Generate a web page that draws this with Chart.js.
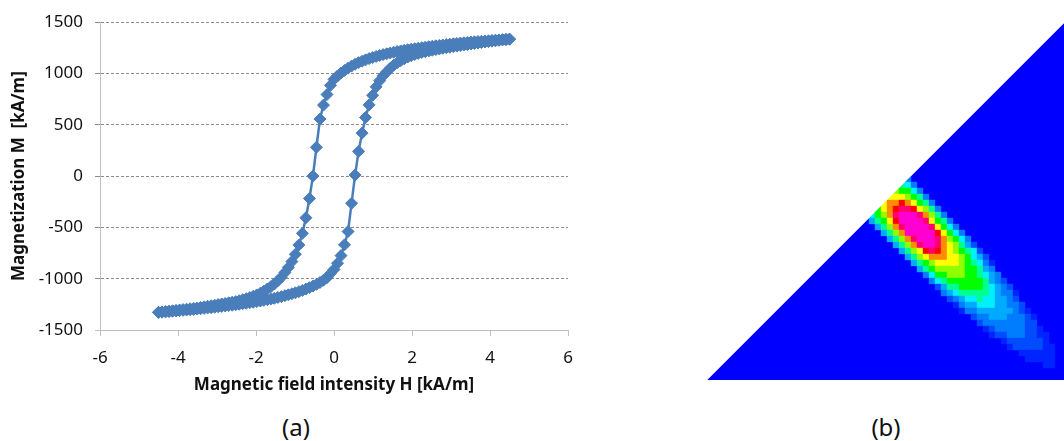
<!DOCTYPE html>
<html>
<head>
<meta charset="utf-8">
<script src="https://cdn.jsdelivr.net/npm/chart.js@4.4.1/dist/chart.umd.min.js"></script>
<style>
  html, body { margin: 0; padding: 0; background: #fff; overflow: hidden; }
  body { width: 1064px; height: 441px; position: relative; font-family: "Noto Sans", sans-serif; }
  #loopChart { position: absolute; left: 0; top: 0; }
  #mapChart { position: absolute; left: 707px; top: 20px; }
  .caption { position: absolute; top: 412px; font-size: 24px; line-height: 30px; color: #111; transform: translateX(-50%); }
</style>
</head>
<body>
<canvas id="loopChart" width="600" height="400"></canvas>
<canvas id="mapChart" width="360" height="360"></canvas>
<div class="caption" style="left:296px">(a)</div>
<div class="caption" style="left:886px">(b)</div>
<script>
// (a) hysteresis loop, H in kA/m, both branches sampled on the same H values
const fieldH = [4.50, 4.41, 4.32, 4.23, 4.14, 4.05, 3.96, 3.87, 3.78, 3.69,
    3.60, 3.51, 3.42, 3.33, 3.24, 3.15, 3.06, 2.97, 2.88, 2.79,
    2.70, 2.61, 2.52, 2.43, 2.34, 2.25, 2.16, 2.07, 1.98, 1.89,
    1.80, 1.71, 1.62, 1.53, 1.44, 1.35, 1.26, 1.17, 1.08, 0.99,
    0.90, 0.81, 0.72, 0.63, 0.54, 0.45, 0.36, 0.27, 0.18, 0.09,
    0.00,
    -0.09, -0.18, -0.27, -0.36, -0.45, -0.54, -0.63, -0.72, -0.81, -0.90,
    -0.99, -1.08, -1.17, -1.26, -1.35, -1.44, -1.53, -1.62, -1.71, -1.80,
    -1.89, -1.98, -2.07, -2.16, -2.25, -2.34, -2.43, -2.52, -2.61, -2.70,
    -2.79, -2.88, -2.97, -3.06, -3.15, -3.24, -3.33, -3.42, -3.51, -3.60,
    -3.69, -3.78, -3.87, -3.96, -4.05, -4.14, -4.23, -4.32, -4.41, -4.50];

const upperM = [1335, 1332, 1330, 1327, 1325, 1322, 1319, 1317, 1314, 1311,
    1309, 1306, 1303, 1300, 1297, 1293, 1290, 1286, 1282, 1278,
    1274, 1270, 1266, 1261, 1257, 1252, 1247, 1242, 1237, 1232,
    1226, 1220, 1214, 1207, 1200, 1192, 1184, 1175, 1166, 1156,
    1145, 1133, 1120, 1106, 1090, 1072, 1052, 1030, 1005, 976,
    943,
    885, 795, 692, 556, 281, 0, -218, -406, -558, -671,
    -762, -833, -890, -940, -985, -1020, -1052, -1078, -1100, -1122,
    -1142, -1158, -1172, -1184, -1195, -1205, -1214, -1223, -1229, -1235,
    -1241, -1246, -1252, -1258, -1263, -1269, -1274, -1280, -1285, -1289,
    -1293, -1297, -1301, -1305, -1309, -1313, -1317, -1321, -1325, -1328];

const lowerM = [1335, 1331, 1327, 1323, 1319, 1315, 1311, 1307, 1302, 1297,
    1292, 1287, 1282, 1277, 1272, 1267, 1262, 1256, 1251, 1245,
    1239, 1233, 1227, 1220, 1213, 1205, 1196, 1186, 1174, 1160,
    1143, 1125, 1105, 1080, 1050, 1015, 978, 930, 870, 787,
    694, 571, 419, 241, 10, -265, -540, -670, -775, -850,
    -910,
    -950, -990, -1015, -1037, -1055, -1072, -1087, -1101, -1114, -1126,
    -1137, -1147, -1157, -1166, -1175, -1183, -1191, -1198, -1205, -1211,
    -1217, -1223, -1229, -1234, -1239, -1244, -1249, -1254, -1258, -1262,
    -1266, -1270, -1274, -1278, -1282, -1285, -1289, -1292, -1296, -1299,
    -1302, -1305, -1308, -1311, -1314, -1317, -1320, -1323, -1326, -1328];

const xTickValues = [-6, -4, -2, 0, 2, 4, 6];
const yTickValues = [-1500, -1000, -500, 0, 500, 1000, 1500];

// (b) distribution map: one string per grid row (top row first), one level code per cell
const mapTopRow = 33;
const mapRowStart = [33, 32, 31, 30, 29, 28, 27, 27, 28, 29, 30, 31, 32, 33, 34, 35,
    36, 37, 38, 39, 40, 41, 42, 44, 45, 46, 47, 49, 50, 52, 53, 56];
const mapRows = [
    "3",
    "653",
    "87753",
    "9998763",
    "9AABA9763",
    "79ABCCB9863",
    "578ACDDDCA863",
    "4679BDDDDC9763",
    "468ACDDDDC9753",
    "468ADDDDDB9753",
    "468ACDDDCA8753",
    "468ACDDCA98642",
    "4689BCBA987652",
    "4689AAA9987542",
    "46789999876531",
    "4678888877643",
    "3577888776543",
    "3567777776432",
    "2466777765432",
    "3456666654331",
    "234556554432",
    "134455544332",
    "133444444321",
    "23344433321",
    "2333333322",
    "1233333221",
    "1223332211",
    "12222221",
    "12222211",
    "111111",
    "11111",
    "11"
];
const mapLevelColors = {
    "1": "#0024ff", "2": "#004cff", "3": "#007cff", "4": "#00aaff",
    "5": "#00f0ff", "6": "#00ff90", "7": "#00ff00", "8": "#90ff00",
    "9": "#ffff00", "A": "#ff8c00", "B": "#ff0000", "C": "#ff0070", "D": "#ff00d0"
};
const domainEdgeX = [0, 60];
const domainEdgeY = [0, 60];

const tickFont = { family: "Noto Sans", size: 17 };
const titleFont = { family: "Noto Sans", size: 17, weight: "bold" };
const textColor = "#111";
const loopColor = "#4a7ebb";

function loopDataset(values) {
    return {
        data: fieldH.map((h, i) => ({ x: h, y: values[i] })),
        showLine: true,
        borderColor: loopColor,
        borderWidth: 2.5,
        pointStyle: "rectRot",
        pointRadius: 6,
        pointBorderWidth: 1,
        pointBackgroundColor: loopColor,
        pointBorderColor: loopColor
    };
}

new Chart(document.getElementById("loopChart"), {
    type: "scatter",
    data: { datasets: [loopDataset(upperM), loopDataset(lowerM)] },
    options: {
        responsive: false,
        animation: false,
        events: [],
        layout: { autoPadding: false, padding: { left: 0, top: 21, right: 32, bottom: 5 } },
        plugins: { legend: { display: false }, tooltip: { enabled: false } },
        scales: {
            x: {
                min: -6,
                max: 6,
                afterBuildTicks: s => { s.ticks = xTickValues.map(v => ({ value: v })); },
                afterFit: s => { s.height = 65; },
                grid: { drawOnChartArea: false, color: "#bfbfbf", tickLength: 6 },
                border: { color: "#bfbfbf" },
                ticks: { padding: 12, font: tickFont, color: textColor, callback: v => String(v) },
                title: { display: true, text: "Magnetic field intensity H [kA/m]", font: titleFont, color: textColor, padding: { top: 0, bottom: 0 } }
            },
            y: {
                min: -1500,
                max: 1500,
                afterBuildTicks: s => { s.ticks = yTickValues.map(v => ({ value: v })); },
                afterFit: s => { s.width = 100; },
                grid: {
                    color: c => (c.tick && c.tick.value === yTickValues[0]) ? "#bfbfbf" : "#8c8c8c",
                    tickLength: 5
                },
                border: {
                    color: "#bfbfbf",
                    dash: c => (c.tick && c.tick.value === yTickValues[0]) ? [] : [3, 2]
                },
                ticks: { padding: 12, font: tickFont, color: textColor, callback: v => String(v) },
                title: { display: true, text: "Magnetization M  [kA/m]", font: titleFont, color: textColor, padding: { top: 9, bottom: 0 } }
            }
        }
    }
});

const cellPoints = [];
const cellColors = [];
mapRows.forEach((row, i) => {
    for (let k = 0; k < row.length; k++) {
        cellPoints.push({ x: mapRowStart[i] + k + 0.5, y: mapTopRow - i + 0.5 });
        cellColors.push(mapLevelColors[row[k]]);
    }
});
const edgePoints = domainEdgeX.map((x, i) => ({ x: x, y: domainEdgeY[i] }));

new Chart(document.getElementById("mapChart"), {
    type: "scatter",
    data: {
        datasets: [
            {
                // white above the diagonal, drawn on top
                type: "line",
                data: edgePoints,
                fill: "end",
                backgroundColor: "#ffffff",
                borderColor: "rgba(0,0,0,0)",
                pointRadius: 0
            },
            {
                data: cellPoints,
                pointStyle: "rect",
                pointRadius: 4.5,
                pointHoverRadius: 4.5,
                pointBorderWidth: 0,
                pointBackgroundColor: cellColors,
                pointBorderColor: cellColors
            },
            {
                type: "line",
                data: edgePoints,
                fill: "start",
                backgroundColor: "#0000ff",
                borderColor: "rgba(0,0,0,0)",
                pointRadius: 0
            }
        ]
    },
    options: {
        responsive: false,
        animation: false,
        events: [],
        layout: { autoPadding: false, padding: 0 },
        plugins: { legend: { display: false }, tooltip: { enabled: false } },
        scales: {
            x: { type: "linear", min: 0, max: 60, display: false },
            y: { type: "linear", min: 0, max: 60, display: false }
        }
    }
});
</script>
</body>
</html>
